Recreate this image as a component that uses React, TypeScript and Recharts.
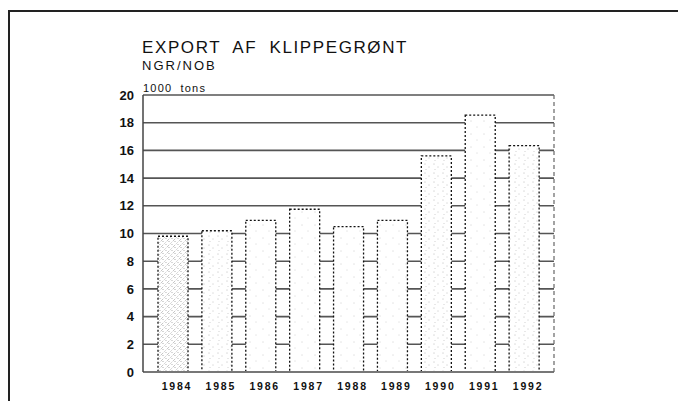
import { BarChart, Bar, XAxis, YAxis, CartesianGrid, Cell } from "recharts";

const years = ["1984", "1985", "1986", "1987", "1988", "1989", "1990", "1991", "1992"];
const exportTons = [9.8, 10.2, 10.95, 11.75, 10.5, 10.95, 15.6, 18.55, 16.35];
const yTicks = [0, 2, 4, 6, 8, 10, 12, 14, 16, 18, 20];
const barPatterns = ["dense", "medium", "sparse", "sparse", "sparse", "sparse", "medium", "sparse", "medium"];

const data = years.map((year, i) => ({ year, tons: exportTons[i] }));

const font = "'Liberation Sans', Arial, Helvetica, sans-serif";

export default function App() {
  return (
    <div style={{ position: "absolute", left: 0, top: 0, width: 678, height: 401, background: "#fff", fontFamily: font }}>
      {/* scanned page frame */}
      <div style={{ position: "absolute", left: 8, top: 10, right: 0, bottom: 0, borderTop: "2px solid #222", borderLeft: "2px solid #222" }} />
      <div style={{ position: "absolute", left: 142, top: 38, fontSize: 17, letterSpacing: 1.6, wordSpacing: 6, color: "#111", lineHeight: "20px" }}>
        EXPORT AF KLIPPEGRØNT
      </div>
      <div style={{ position: "absolute", left: 142, top: 58, fontSize: 13, letterSpacing: 2, color: "#111", lineHeight: "15px" }}>
        NGR/NOB
      </div>
      <div style={{ position: "absolute", left: 143, top: 82, fontSize: 11, letterSpacing: 1.2, wordSpacing: 4, color: "#111", lineHeight: "12px" }}>
        1000 tons
      </div>
      <BarChart
        width={678}
        height={401}
        data={data}
        margin={{ top: 95, right: 123, left: 0, bottom: 0 }}
        style={{ position: "absolute", left: 0, top: 0 }}
      >
        <defs>
          <pattern id="dense" width="6" height="6" patternUnits="userSpaceOnUse">
            <rect width="6" height="6" fill="#fff" />
            <path d="M0 6 L6 0" stroke="#777" strokeWidth="0.6" strokeDasharray="1 1.5" />
            <circle cx="1" cy="1.5" r="0.45" fill="#555" />
            <circle cx="4" cy="4.5" r="0.45" fill="#666" />
          </pattern>
          <pattern id="medium" width="9" height="9" patternUnits="userSpaceOnUse">
            <rect width="9" height="9" fill="#fff" />
            <circle cx="2" cy="2" r="0.45" fill="#777" />
            <circle cx="6" cy="5" r="0.45" fill="#888" />
            <circle cx="3" cy="7.5" r="0.4" fill="#999" />
          </pattern>
          <pattern id="sparse" width="13" height="13" patternUnits="userSpaceOnUse">
            <rect width="13" height="13" fill="#fff" />
            <circle cx="3" cy="4" r="0.45" fill="#999" />
            <circle cx="9" cy="10" r="0.45" fill="#aaa" />
          </pattern>
        </defs>
        <CartesianGrid yAxisId="left" vertical={false} stroke="#555" strokeWidth={1.6} />
        <XAxis
          dataKey="year"
          height={29}
          padding={{ left: 8, right: 8 }}
          axisLine={{ stroke: "#777", strokeWidth: 2 }}
          tickLine={false}
          tick={{ fontSize: 10.5, fontWeight: 700, fill: "#111", fontFamily: font, letterSpacing: 1.8 }}
          dy={3}
          dx={4}
          interval={0}
        />
        <YAxis
          yAxisId="left"
          width={143}
          domain={[0, 20]}
          ticks={yTicks}
          interval={0}
          axisLine={{ stroke: "#444", strokeWidth: 1.5 }}
          tickLine={false}
          tick={{ fontSize: 13, fontWeight: 700, fill: "#111", fontFamily: font }}
          tickMargin={3}
        />
        <YAxis
          yAxisId="right"
          orientation="right"
          width={1}
          domain={[0, 20]}
          tick={false}
          tickLine={false}
          axisLine={{ stroke: "#666", strokeWidth: 1.2, strokeDasharray: "4 3" }}
        />
        <Bar
          yAxisId="left"
          dataKey="tons"
          barSize={30}
          stroke="#111"
          strokeWidth={1.3}
          strokeDasharray="2 2"
          isAnimationActive={false}
        >
          {data.map((d, i) => (
            <Cell key={d.year} fill={`url(#${barPatterns[i]})`} />
          ))}
        </Bar>
      </BarChart>
    </div>
  );
}
